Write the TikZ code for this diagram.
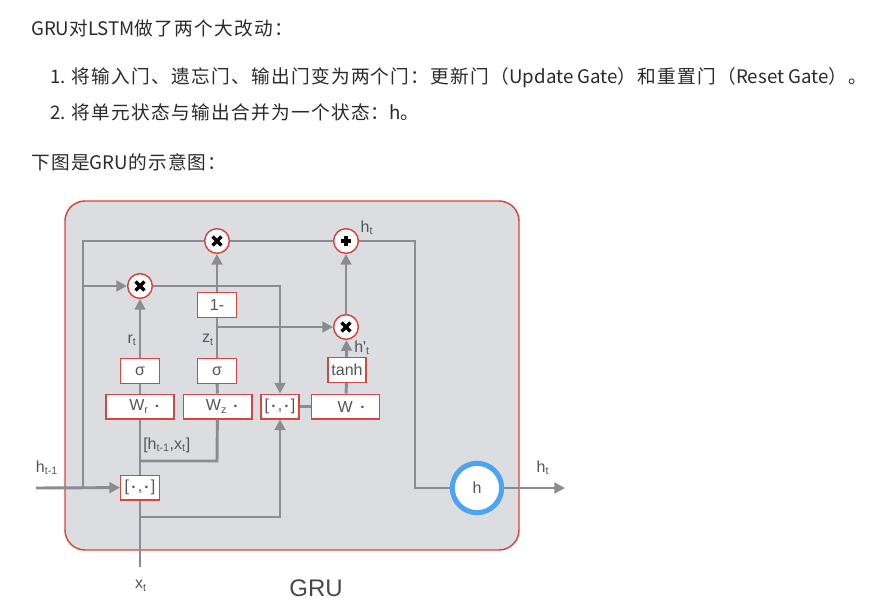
\documentclass[tikz,border=0pt]{standalone}
\usepackage{fontspec}
\setmainfont{Noto Sans CJK SC}[LetterSpace=7]
\newfontfamily\latf{Noto Sans CJK SC}
\newfontfamily\diag{Liberation Sans}
\usetikzlibrary{arrows.meta}
\definecolor{gline}{HTML}{8A8C91}
\definecolor{gred}{HTML}{D8453C}
\definecolor{gbg}{HTML}{DCDDE0}
\definecolor{gtxt}{HTML}{555555}
\definecolor{hblue}{HTML}{4DA3F2}
\definecolor{maintxt}{HTML}{2A2A2A}
\newcommand\lt[1]{{\latf #1}}
\newcommand\bul{\raisebox{0.9pt}{\fontsize{7}{7}\selectfont •}}
\tikzset{
  maintext/.style={anchor=west, inner sep=0pt, font=\fontsize{14}{16}\selectfont, text=maintxt},
  wire/.style={draw=gline, line width=2.2pt},
  arr/.style={wire, -{Triangle[length=8pt,width=8pt]}},
  gatebox/.style={draw=gred, fill=white, line width=1pt, minimum height=18.5pt, inner sep=0pt,
    font=\diag\fontsize{12}{13}\selectfont, text=gtxt},
  opcirc/.style={circle, draw=gred, fill=white, line width=1.1pt, minimum size=18.5pt, inner sep=0pt},
  mulop/.style={opcirc, path picture={
      \draw[black, line width=2.5pt]
        ([shift={(-3.3pt,-3.3pt)}]path picture bounding box.center) -- ++(6.6pt,6.6pt)
        ([shift={(-3.3pt,3.3pt)}]path picture bounding box.center) -- ++(6.6pt,-6.6pt);}},
  addop/.style={opcirc, path picture={
      \draw[black, line width=2.3pt]
        ([shift={(-3.8pt,0pt)}]path picture bounding box.center) -- ++(7.6pt,0pt)
        ([shift={(0pt,-3.8pt)}]path picture bounding box.center) -- ++(0pt,7.6pt);}},
  hnode/.style={circle, draw=hblue, fill=white, line width=3.8pt, minimum size=37pt, inner sep=0pt,
    font=\diag\fontsize{12}{13}\selectfont, text=gtxt},
  lbl/.style={inner sep=0pt, font=\diag\fontsize{12}{13}\selectfont, text=gtxt},
}
\begin{document}
\begin{tikzpicture}[x=0.75pt,y=-0.75pt]
\useasboundingbox (0,0) rectangle (891,616);
\fill[white] (0,0) rectangle (891,616);

% text above
\node[maintext] (l1) at (31,28) {\lt{GRU}对\lt{LSTM}做了两个大改动：};
\node[maintext] (l2) at (50,78) {\lt{1. }将输入门、遗忘门、输出门变为两个门：更新门（\lt{Update Gate}）和重置门（\lt{Reset Gate}）。};
\node[maintext] (l3) at (50,112) {\lt{2. }将单元状态与输出合并为一个状态：\lt{h}。};
\node[maintext] (l4) at (31,162) {下图是\lt{GRU}的示意图：};

% outer box
\draw[draw=gred, fill=gbg, line width=1.1pt, rounded corners=15pt] (65,201) rectangle (519,550);

% operator nodes
\node[mulop] (mulz) at (217,241) {};
\node[addop] (plus) at (346,241) {};
\node[mulop] (mulr) at (140,286) {};
\node[mulop] (mulh) at (346,327) {};

% boxes
\node[gatebox, minimum width=29pt] (onem) at (217,305) {1-};
\node[gatebox, minimum width=29pt] (sigr) at (140,371) {σ};
\node[gatebox, minimum width=29pt] (sigz) at (217,371) {σ};
\node[gatebox, minimum width=28.5pt] (tanh) at (347,370) {tanh};
\node[gatebox, minimum width=51pt] (Wr) at (140,406.5) {\hspace{6pt}W\textsubscript{r}\hspace{5pt}\bul};
\node[gatebox, minimum width=51.5pt] (Wz) at (217.5,406.5) {\hspace{6pt}W\textsubscript{z}\hspace{5pt}\bul};
\node[gatebox, minimum width=28.5pt] (catm) at (280,406.5) {[\,\bul\,,\,\bul\,]};
\node[gatebox, minimum width=51pt] (W) at (345.5,406.5) {\hspace{8pt}W\hspace{6pt}\bul};
\node[gatebox, minimum width=29pt] (catb) at (140,487.5) {[\,\bul\,,\,\bul\,]};
\node[hnode] (hc) at (477,488) {h};

% coordinates
\coordinate (hin) at (36,488);
\coordinate (lv) at (83,488);
\coordinate (lt) at (83,241);
\coordinate (lr) at (83,286);
\coordinate (rr) at (280,286);
\coordinate (zb) at (217,327);
\coordinate (rt) at (415,241);
\coordinate (rb) at (415,488);
\coordinate (zj) at (217,461);
\coordinate (xj) at (140,461);
\coordinate (xin) at (140,567);
\coordinate (xb) at (140,517);
\coordinate (xm) at (280,517);
\coordinate (hout) at (565,488);

% connectors
\draw[arr] (hin) -- (catb);
\draw[wire] (lv) -- (lt) -- (mulz);
\draw[wire] (mulz) -- (plus);
\draw[wire] (plus) -- (rt) -- (rb) -- (hc);
\draw[arr] (lr) -- (mulr);
\draw[arr] (mulr) -- (rr) -- (catm);
\draw[wire] (Wr) -- (sigr);
\draw[arr] (sigr) -- (mulr);
\draw[wire] (Wz) -- (sigz);
\draw[wire] (sigz) -- (onem);
\draw[arr] (onem) -- (mulz);
\draw[arr] (zb) -- (mulh);
\draw[wire] (W) -- (tanh);
\draw[arr] (tanh) -- (mulh);
\draw[arr] (mulh) -- (plus);
\draw[wire] (catm) -- (W);
\draw[wire] (Wr) -- (catb);
\draw[wire] (Wz) -- (zj) -- (xj);
\draw[wire] (xin) -- (catb);
\draw[arr] (xb) -- (xm) -- (catm);
\draw[arr] (hc) -- (hout);

% labels
\node[lbl] (rtl) at (132,340) {r\textsubscript{t}};
\node[lbl] (ztl) at (208,340) {z\textsubscript{t}};
\node[lbl] (htop) at (367,228) {h\textsubscript{t}};
\node[lbl, anchor=west] (hpl) at (354,348) {h'\textsubscript{t}};
\node[lbl, anchor=west] (catl) at (143,445) {[h\textsubscript{t-1},x\textsubscript{t}]};
\node[lbl] (hm1) at (47,468) {h\textsubscript{t-1}};
\node[lbl] (xtl) at (141,586) {x\textsubscript{t}};
\node[lbl] (hrl) at (543,468) {h\textsubscript{t}};
\node[inner sep=0pt, font=\diag\fontsize{18}{20}\selectfont, text=gtxt!85!black] (gru) at (316,588) {GRU};
\end{tikzpicture}
\end{document}
